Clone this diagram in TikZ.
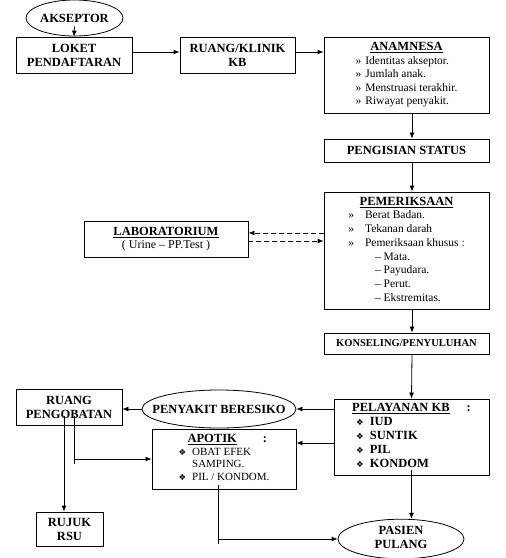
\documentclass[tikz,border=0pt]{standalone}
\usepackage{fontspec}
\setmainfont{Liberation Serif}
\newfontfamily\dvsans{DejaVu Sans}
\usetikzlibrary{shapes.geometric,arrows.meta}
\newcommand{\ketupat}{{\dvsans\fontsize{8.5}{8.5}\selectfont ❖}}
\begin{document}
\begin{tikzpicture}[x=1pt, y=-1pt, line width=0.8pt,
    box/.style={draw, rectangle, inner sep=0pt, align=center, font=\bfseries\fontsize{12.5}{14}\selectfont},
    oval/.style={draw, ellipse, inner sep=0pt, font=\bfseries\fontsize{12.5}{14}\selectfont},
    arr/.style={-{Latex[length=6pt,width=5pt]}}]
    \useasboundingbox (0,0) rectangle (506,558);

    % top row
    \node[oval, minimum width=97pt, minimum height=36pt] (akseptor) at (74.5,18) {\makebox[0pt]{AKSEPTOR}};
    \node[box, minimum width=116pt, minimum height=36pt] (loket) at (74,55) {LOKET\\PENDAFTARAN};
    \node[box, minimum width=115pt, minimum height=36pt] (klinik) at (237.5,55) {RUANG/KLINIK\\KB};
    \node[box, minimum width=165pt, minimum height=76pt, font=\fontsize{11.5}{13.5}\selectfont] (anamnesa) at (406.5,75) {%
        \begin{tabular}{@{}l@{\hspace{4pt}}l@{}}
        \multicolumn{2}{c}{\bfseries\fontsize{12.5}{13.5}\selectfont\underline{ANAMNESA}}\\
        » & Identitas akseptor.\\
        » & Jumlah anak.\\
        » & Menstruasi terakhir.\\
        » & Riwayat penyakit.
        \end{tabular}};

    % right column
    \node[box, minimum width=165pt, minimum height=23pt] (pengisian) at (406.5,150.5) {PENGISIAN STATUS};
    \node[box, minimum width=165pt, minimum height=117pt, font=\fontsize{11.5}{13.7}\selectfont] (pemeriksaan) at (406.5,250.5) {%
        \begin{tabular}{@{}l@{\hspace{11pt}}l@{}}
        \multicolumn{2}{c}{\bfseries\fontsize{12.5}{13.7}\selectfont\underline{PEMERIKSAAN}}\\
        » & Berat Badan.\\
        » & Tekanan darah\\
        » & Pemeriksaan khusus :\\
          & \hspace{10pt}-- Mata.\\
          & \hspace{10pt}-- Payudara.\\
          & \hspace{10pt}-- Perut.\\
          & \hspace{10pt}-- Ekstremitas.
        \end{tabular}};
    \node[box, minimum width=164pt, minimum height=36pt] (lab) at (166,239) {%
        \underline{LABORATORIUM}\\[-1.5pt]{\mdseries\fontsize{12}{13}\selectfont ( Urine -- PP.Test )}};
    \node[box, minimum width=165pt, minimum height=21pt, font=\bfseries\fontsize{10.5}{12}\selectfont] (konseling) at (406.5,343.5) {KONSELING/PENYULUHAN};
    \node[box, minimum width=155pt, minimum height=76pt] (pelayanan) at (411.5,437) {%
        \begin{tabular}{@{}l@{\hspace{6pt}}l@{}}
        \multicolumn{2}{@{}l@{}}{\underline{PELAYANAN KB}\hspace{17pt}:}\\
        \hspace{4pt}\ketupat & IUD\\
        \hspace{4pt}\ketupat & SUNTIK\\
        \hspace{4pt}\ketupat & PIL\\
        \hspace{4pt}\ketupat & KONDOM
        \end{tabular}};

    % bottom left
    \node[box, minimum width=106pt, minimum height=36pt] (pengobatan) at (69,407) {RUANG\\PENGOBATAN};
    \node[oval, minimum width=154pt, minimum height=38pt] (beresiko) at (219,409) {\makebox[0pt]{PENYAKIT BERESIKO}};
    \node[box, minimum width=144pt, minimum height=60pt, font=\fontsize{11}{12.7}\selectfont] (apotik) at (224,459) {%
        \begin{tabular}{@{}l@{\hspace{6pt}}l@{}}
        \multicolumn{2}{@{}l@{}}{\hspace{9pt}\bfseries\fontsize{12.5}{12.7}\selectfont\underline{APOTIK}\hspace{26pt}:}\\
        \ketupat & OBAT EFEK\\
                 & SAMPING.\\
        \ketupat & PIL / KONDOM.
        \end{tabular}};
    \node[box, minimum width=67pt, minimum height=34pt] (rujuk) at (69.5,529) {RUJUK\\RSU};
    \node[oval, minimum width=126pt, minimum height=36pt] (pasien) at (401,539) {%
        \makebox[0pt]{\begin{tabular}{@{}c@{}}PASIEN\\PULANG\end{tabular}}};

    % main flow
    \draw[arr] ([yshift=10pt]akseptor.south) -- (loket.north);
    \draw[arr] ([yshift=3pt]loket.east) -- ([yshift=3pt]klinik.west);
    \coordinate (keanam) at ([yshift=3pt]klinik.east);
    \draw[arr] (keanam) -- (keanam -| anamnesa.west);
    \coordinate (spine) at (412,0);
    \draw[arr] (anamnesa.south -| spine) -- (pengisian.north -| spine);
    \draw[arr] (pengisian.south -| spine) -- (pemeriksaan.north -| spine);
    \draw[arr] (pemeriksaan.south -| spine) -- (konseling.north -| spine);
    \draw[arr] (konseling.south -| spine) -- (pelayanan.north);

    % laboratorium
    \coordinate (labatas) at ([yshift=6pt]lab.east);
    \coordinate (labbawah) at ([yshift=-2pt]lab.east);
    \draw[arr, dash pattern=on 5pt off 3pt] (labatas -| pemeriksaan.west) -- (labatas);
    \draw[arr, dash pattern=on 5pt off 3pt] (labbawah) -- (labbawah -| pemeriksaan.west);

    % pelayanan kb
    \draw[arr] (pelayanan.west |- beresiko.east) -- (beresiko.east);
    \draw[arr] (beresiko.west) -- (beresiko.west -| pengobatan.east);
    \coordinate (keapotik) at ([yshift=16pt]apotik.east);
    \draw[arr] (keapotik -| pelayanan.west) -- (keapotik);
    \draw[arr] ([yshift=5pt]pelayanan.south) -- (pasien.north -| pelayanan.south);

    % ruang pengobatan
    \coordinate (kekiri) at ([xshift=-5pt,yshift=9pt]pengobatan.south);
    \coordinate (kekanan) at ([xshift=5pt,yshift=9pt]pengobatan.south);
    \draw[arr] (kekiri) -- (kekiri |- rujuk.north);
    \draw (kekanan) -- ++(0,48);
    \draw[arr] (kekanan |- apotik.west) -- (apotik.west);

    % apotik
    \coordinate (apbawah) at ([xshift=-6pt,yshift=4pt]apotik.south);
    \draw (apbawah) -- ++(0,59);
    \draw[arr] (apbawah |- pasien.west) -- (pasien.west);
\end{tikzpicture}
\end{document}
